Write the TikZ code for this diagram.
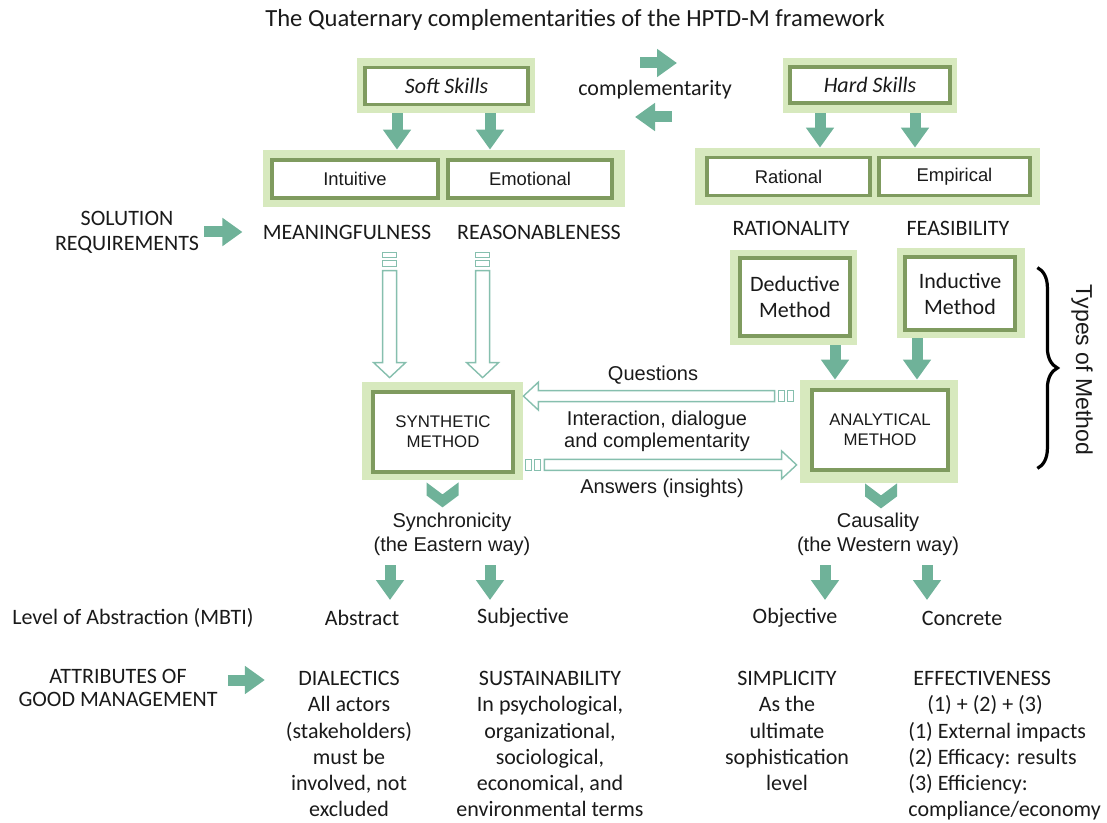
\documentclass[tikz,border=0pt]{standalone}
\usepackage{fontspec}
\setmainfont{Carlito}
\newfontfamily\arialfont{Liberation Sans}
\usetikzlibrary{arrows.meta,shapes,positioning,calc,decorations.pathreplacing}
\definecolor{lightgreen}{HTML}{D7E9BE}
\definecolor{boxgreen}{HTML}{7F9B5F}
\definecolor{arrowgreen}{HTML}{6FB299}
\definecolor{hollowgreen}{HTML}{86BFAE}
\definecolor{ink}{HTML}{1A1A1A}

% hollow arrow pointing down: #1 tail, #2 tip
\newcommand\hollowdown[2]{%
  \draw[hollow] ($(#1)+(-7,0)$) rectangle ($(#1)+(7,5)$);
  \draw[hollow] ($(#1)+(-7,8)$) rectangle ($(#1)+(7,14)$);
  \draw[hollow] ($(#1)+(-7,18)$) -- ($(#2)+(-7,-15)$) -- ($(#2)+(-16,-15)$) -- (#2)
    -- ($(#2)+(16,-15)$) -- ($(#2)+(7,-15)$) -- ($(#1)+(7,18)$) -- cycle;}
% hollow arrow sideways: #1 tail, #2 tip, #3 = 1 right / -1 left
\newcommand\hollowside[3]{%
  \draw[hollow] ($(#1)+(0,-5.5)$) rectangle ($(#1)+(#3*6,5.5)$);
  \draw[hollow] ($(#1)+(#3*9,-5.5)$) rectangle ($(#1)+(#3*15,5.5)$);
  \draw[hollow] ($(#1)+(#3*19,-5.5)$) -- ($(#2)+(0,-5.5)-(#3*15,0)$) -- ($(#2)+(0,-14)-(#3*15,0)$) -- (#2)
    -- ($(#2)+(0,14)-(#3*15,0)$) -- ($(#2)+(0,5.5)-(#3*15,0)$) -- ($(#1)+(#3*19,5.5)$) -- cycle;}

\begin{document}
\begin{tikzpicture}[x=0.5pt,y=-0.5pt,
  outer/.style={fill=lightgreen,inner sep=0pt},
  inner/.style={draw=boxgreen,line width=1.8pt,fill=white,inner sep=0pt,align=center,text=ink},
  lbl/.style={inner sep=0pt,text=ink,align=center,font=\fontsize{11}{13.1}\selectfont},
  albl/.style={inner sep=0pt,text=ink,align=center,font=\arialfont\fontsize{10}{11}\selectfont},
  garrow/.style={arrowgreen,line width=5.5pt,-{Triangle[width=13.5pt,length=10pt]}},
  hollow/.style={draw=hollowgreen,line width=0.7pt,fill=white}]
\useasboundingbox (0,0) rectangle (1107,823);

\node[lbl,font=\fontsize{12.3}{14}\selectfont] (title) at (575,20) {The Quaternary complementarities of the HPTD-M framework};

% skills
\node[outer,minimum width=89pt,minimum height=27.5pt] (soft) at (446,85.5) {};
\node[inner,minimum width=81.5pt,minimum height=18.5pt,font=\itshape\fontsize{11}{13}\selectfont] (softin) at (446.5,86) {Soft Skills};
\node[outer,minimum width=87pt,minimum height=27.5pt] (hard) at (870,85.5) {};
\node[inner,minimum width=80pt,minimum height=18pt,font=\itshape\fontsize{11}{13}\selectfont] (hardin) at (870,85) {Hard Skills};
\node[lbl] (compl) at (655,90) {complementarity};
\draw[garrow] ($(compl)+(-15,-27)$) -- ($(compl)+(22,-27)$);
\draw[garrow] ($(compl)+(17,27)$) -- ($(compl)+(-20,27)$);

\node[outer,minimum width=181pt,minimum height=28.5pt] (softrow) at (444,178.5) {};
\node[inner,minimum width=83pt,minimum height=19pt,font=\arialfont\fontsize{9.2}{11}\selectfont] (intuitive) at (355,179) {Intuitive};
\node[inner,minimum width=82pt,minimum height=19pt,font=\arialfont\fontsize{9.2}{11}\selectfont] (emotional) at (530,179) {Emotional};
\node[outer,minimum width=172.5pt,minimum height=28.5pt] (hardrow) at (867.5,176.5) {};
\node[inner,minimum width=81.5pt,minimum height=19pt,font=\arialfont\fontsize{9.2}{11}\selectfont] (rational) at (788.5,176.5) {Rational};
\node[inner,minimum width=75.5pt,minimum height=19pt,font=\arialfont\fontsize{9.2}{11}\selectfont] (empirical) at (954.5,176.5) {Empirical};
\foreach \dx in {-49,44}
  \draw[garrow] ($(soft.south)+(\dx,0)$) -- ($(softrow.north)+(\dx+2,0)$);
\foreach \dx in {-50,45}
  \draw[garrow] ($(hard.south)+(\dx,0)$) -- ($(hardrow.north)+(\dx+2.5,0)$);

% requirements
\node[lbl,font=\fontsize{11}{12.5}\selectfont] (solreq) at (127,232) {SOLUTION\\REQUIREMENTS};
\node[lbl] (meaning) at (347,232) {MEANINGFULNESS};
\node[lbl] (reason) at (539,232) {REASONABLENESS};
\node[lbl] (ration) at (791,228) {RATIONALITY};
\node[lbl] (feas) at (958,228) {FEASIBILITY};
\draw[garrow,shorten <=2.5pt,shorten >=10pt] (solreq.east) -- (meaning.west);

% methods
\node[outer,minimum width=63.5pt,minimum height=47.5pt] (dedout) at (793.5,297.5) {};
\node[inner,minimum width=55pt,minimum height=39pt,font=\fontsize{11}{13}\selectfont] (dedin) at (795,297) {Deductive\\Method};
\node[outer,minimum width=64pt,minimum height=45pt] (indout) at (961,293) {};
\node[inner,minimum width=55pt,minimum height=36.5pt,font=\fontsize{11}{13}\selectfont] (indin) at (960,293.5) {Inductive\\Method};
\node[outer,minimum width=80.5pt,minimum height=49pt] (synthout) at (442.5,431) {};
\node[inner,minimum width=70pt,minimum height=40pt,font=\arialfont\fontsize{8.4}{10}\selectfont] (synth) at (443,432) {SYNTHETIC\\METHOD};
\node[outer,minimum width=79pt,minimum height=51.5pt] (anaout) at (879,431.5) {};
\node[inner,minimum width=68pt,minimum height=40pt,font=\arialfont\fontsize{8.4}{10}\selectfont] (ana) at (880,430) {ANALYTICAL\\METHOD};
\draw[garrow] ($(dedout.south)+(41.5,0)$) -- ($(anaout.north)+(-44,0)$);
\draw[garrow] ($(indout.south)+(-44,0)$) -- ($(anaout.north)+(38,0)$);

\hollowdown{$(synthout.north west)+(28,-129)$}{$(synthout.north west)+(28,-4)$}
\hollowdown{$(synthout.north west)+(121,-129)$}{$(synthout.north west)+(121,-4)$}
\hollowside{$(anaout.north west)+(-6,16.5)$}{$(synthout.north east)+(0,14.5)$}{-1}
\hollowside{$(synthout.south east)+(2,-15.5)$}{$(anaout.south west)+(-3,-18.5)$}{1}
\node[albl] (questions) at (653,375) {Questions};
\node[albl] (interact) at (657,431) {Interaction, dialogue\\and complementarity};
\node[albl] (answers) at (662,488) {Answers (insights)};

\draw[decorate,decoration={brace,amplitude=10pt},line width=1.6pt] ($(indout.north east)+(12,20)$) -- ($(anaout.south east)+(79,-15)$);
\node[albl,rotate=-90,font=\arialfont\fontsize{11.5}{13}\selectfont] (types) at (1082,370) {Types of Method};

% ways
\fill[arrowgreen] ($(synthout.south)+(-16,2)$) -- ++(0,13) -- ++(16,12) -- ++(16,-12) -- ++(0,-13) -- ++(-16,12) -- cycle;
\fill[arrowgreen] ($(anaout.south)+(-14,0)$) -- ++(0,13) -- ++(16,12) -- ++(16,-12) -- ++(0,-13) -- ++(-16,12) -- cycle;
\node[albl,font=\arialfont\fontsize{10}{12}\selectfont] (synchro) at (452,534) {Synchronicity\\(the Eastern way)};
\node[albl,font=\arialfont\fontsize{10}{12}\selectfont] (causal) at (878,534) {Causality\\(the Western way)};
\foreach \dx in {-62,38}
  \draw[garrow] ($(synchro)+(\dx,31)$) -- ($(synchro)+(\dx,66)$);
\foreach \dx in {-53,49}
  \draw[garrow] ($(causal)+(\dx,31)$) -- ($(causal)+(\dx,66)$);

% abstraction
\node[lbl] (levelabs) at (133,618) {Level of Abstraction (MBTI)};
\node[lbl] (abstract) at (362,618) {Abstract};
\node[lbl] (subjective) at (523,618) {Subjective};
\node[lbl] (objective) at (795,618) {Objective};
\node[lbl] (concrete) at (962,618) {Concrete};

% attributes
\node[lbl,font=\fontsize{11}{11.5}\selectfont] (attrib) at (118,688) {ATTRIBUTES OF\\GOOD MANAGEMENT};
\draw[garrow] ($(attrib.east)+(10,-8)$) -- ($(attrib.east)+(47,-8)$);
\node[lbl,anchor=north] (dialect) at (349,671) {DIALECTICS\\All actors\\(stakeholders)\\must be\\involved, not\\excluded};
\node[lbl,anchor=north] (sustain) at (550,671) {SUSTAINABILITY\\In psychological,\\organizational,\\sociological,\\economical, and\\environmental terms};
\node[lbl,anchor=north] (simpl) at (787,671) {SIMPLICITY\\As the\\ultimate\\sophistication\\level};
\node[lbl,anchor=north west,align=left] (effect) at (908,671) {\hspace*{2.5pt}EFFECTIVENESS\\\hspace*{9.5pt}(1) + (2) + (3)\\(1) External impacts\\(2) Efficacy: results\\(3) Efficiency:\\compliance/economy};
\end{tikzpicture}
\end{document}
